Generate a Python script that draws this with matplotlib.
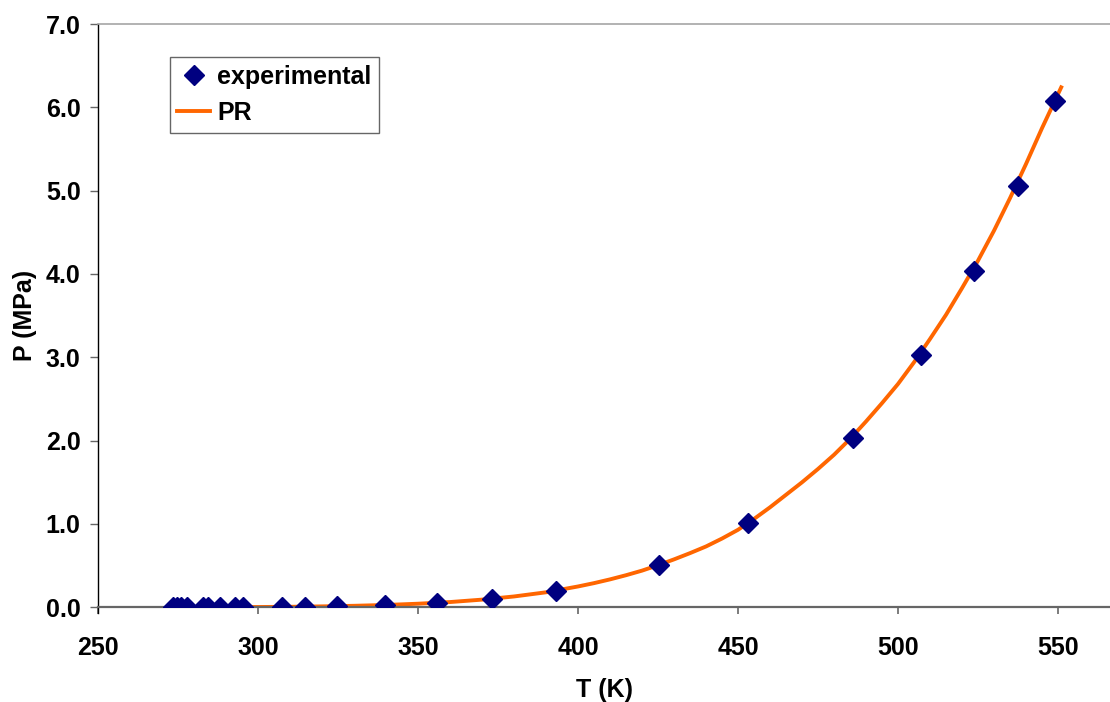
import numpy as np
import matplotlib
matplotlib.use("Agg")
import matplotlib.pyplot as plt

plt.rcParams['font.family'] = ['Liberation Sans', 'DejaVu Sans']
plt.rcParams['font.weight'] = 'bold'

# experimental vapour pressure points
T_exp = [273.4, 274.7, 275.9, 277.8, 282.9, 284.5, 288.1, 292.8, 295.4,
         307.4, 314.7, 324.6, 339.7, 356.0, 373.0, 393.0, 425.3, 453.2,
         485.8, 507.3, 523.8, 537.4, 549.2]
P_exp = [0.0006, 0.0007, 0.0008, 0.0009, 0.0012, 0.0014, 0.0017, 0.0023, 0.0027,
         0.0055, 0.0081, 0.0128, 0.027, 0.048, 0.100, 0.198, 0.509, 1.006,
         2.03, 3.03, 4.04, 5.06, 6.07]

# PR curve, sampled along the drawn line
T_pr = [298, 310, 320, 330, 340, 350, 360, 370, 380, 390, 395, 400, 405, 410,
        415, 420, 425, 430, 435, 440, 445, 450, 455, 460, 465, 470, 475, 480,
        485, 490, 495, 500, 505, 510, 515, 520, 525, 530, 535, 540, 545, 551]
P_pr = [0.003, 0.006, 0.011, 0.018, 0.028, 0.043, 0.063, 0.092, 0.13, 0.18,
        0.215, 0.25, 0.29, 0.335, 0.385, 0.44, 0.505, 0.575, 0.65, 0.73,
        0.825, 0.93, 1.06, 1.20, 1.35, 1.50, 1.66, 1.83, 2.02, 2.23, 2.45,
        2.68, 2.94, 3.22, 3.51, 3.83, 4.16, 4.52, 4.91, 5.32, 5.75, 6.24]

x_ticks = [250, 300, 350, 400, 450, 500, 550]
y_ticks = [0.0, 1.0, 2.0, 3.0, 4.0, 5.0, 6.0, 7.0]

fs = 18
fig = plt.figure(figsize=(11.1, 7.02), dpi=100)
ax = fig.add_axes([98 / 1110, 94.7 / 702, 1 - 98 / 1110, 583.3 / 702])

ax.plot(T_pr, P_pr, color='#FF6600', lw=2.8, label='PR', zorder=2)
ax.plot(T_exp, P_exp, linestyle='none', marker='D', markersize=10.5,
        color='#000080', markeredgecolor='#000080', label='experimental', zorder=3)

ax.set_xlim(250, 566.25)
ax.set_ylim(0, 7)
ax.set_xticks(x_ticks)
ax.set_yticks(y_ticks)
ax.set_yticklabels([f"{v:.1f}" for v in y_ticks])

ax.spines['right'].set_visible(False)
ax.spines['top'].set_color('#a6a6a6')
ax.spines['top'].set_linewidth(1.2)
ax.spines['bottom'].set_color('#666666')
ax.spines['bottom'].set_linewidth(1.6)
ax.spines['left'].set_color('black')
ax.spines['left'].set_linewidth(1.0)
ax.spines['left'].set_bounds(-0.07, 7)

ax.tick_params(axis='x', direction='out', length=5, width=1.2, color='#666666',
               labelsize=fs, pad=15.5)
ax.tick_params(axis='y', direction='out', length=5.5, width=1.0, color='#666666',
               labelsize=fs, pad=7)

ax.set_xlabel('T (K)', fontsize=fs, fontweight='bold', labelpad=13)
ax.set_ylabel('P (MPa)', fontsize=fs, fontweight='bold', labelpad=6)

handles, labels = ax.get_legend_handles_labels()
leg = ax.legend(handles[::-1], labels[::-1], loc='upper left',
                bbox_to_anchor=(0.0711, 0.9434), borderaxespad=0,
                fontsize=fs, frameon=True, fancybox=False, edgecolor='#404040',
                handlelength=1.3, handletextpad=0.3, labelspacing=0.5,
                borderpad=0.3, prop={'weight': 'bold', 'size': fs})
leg.get_frame().set_linewidth(1.0)

fig.savefig('out.png', dpi=100)
